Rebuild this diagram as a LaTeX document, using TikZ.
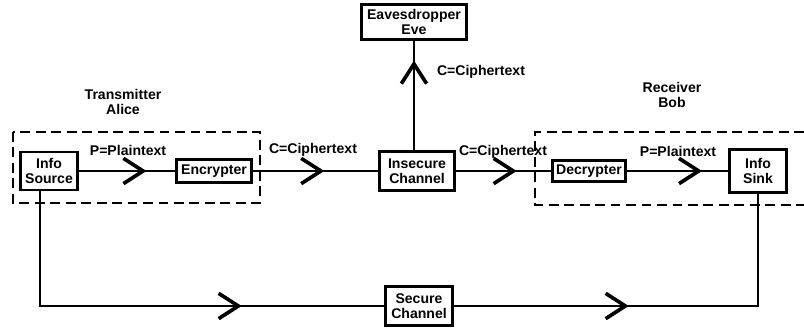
\documentclass[tikz,border=0pt]{standalone}
\usepackage{fontspec}
\setmainfont{Liberation Sans}
\usetikzlibrary{arrows.meta,decorations.markings}
\tikzset{
  unit/.style={draw, line width=2pt, fill=white, align=center, inner sep=1pt,
    font=\bfseries\fontsize{10}{11}\selectfont},
  lbl/.style={align=center, font=\bfseries\fontsize{10}{11}\selectfont},
  party/.style={draw, line width=2pt, dash pattern=on 7pt off 4pt},
  chev/.style={postaction={decorate}, decoration={markings,
    mark=at position #1 with {\arrow{Straight Barb[length=14pt,width=18pt,line width=2.6pt]}}}},
}
\begin{document}
\begin{tikzpicture}[x=0.025cm, y=-0.025cm]
  \useasboundingbox (0,0) rectangle (804,329);
  % sender and receiver groups
  \draw[party] (13,132) rectangle (260,203);
  \draw[party] (804,132) -| (535,205) -- (804,205);
  \node[lbl] (alice) at (123,102) {Transmitter\\Alice};
  \node[lbl] (bob) at (672,95) {Receiver\\Bob};

  \node[unit, minimum width=41pt, minimum height=27pt] (src) at (49,171) {Info\\Source};
  \node[unit, minimum width=53pt, minimum height=16pt] (enc) at (214,171) {Encrypter};
  \node[unit, minimum width=53pt, minimum height=28pt] (ins) at (417,171) {Insecure\\Channel};
  \node[unit, minimum width=75pt, minimum height=25pt] (eve) at (414,22) {Eavesdropper\\Eve};
  \node[unit, minimum width=52pt, minimum height=15pt] (dec) at (589,171) {Decrypter};
  \node[unit, minimum width=40pt, minimum height=31pt] (snk) at (758,171) {Info\\Sink};
  \node[unit, minimum width=48pt, minimum height=28pt] (sec) at (419,306) {Secure\\Channel};
  \coordinate (sl) at (40,306);

  \draw[line width=1.8pt, chev=0.70] (src) -- (enc);
  \draw[line width=1.8pt, chev=0.57] (enc) -- (ins);
  \draw[line width=1.8pt, chev=0.64] (ins) -- (dec);
  \draw[line width=1.8pt, chev=0.74] (dec) -- (snk);
  \draw[line width=1.8pt, chev=0.82] (ins.north -| eve) -- (eve);
  \draw[line width=1.3pt, chev=0.69] (src.south -| sl) |- (sec);
  \draw[line width=1.3pt, chev=0.42] (sec) -| (snk);

  \node[lbl] (pt1) at (128,150) {P=Plaintext};
  \node[lbl] (ct1) at (313,150) {C=Ciphertext};
  \node[lbl] (ct2) at (481,72) {C=Ciphertext};
  \node[lbl] (ct3) at (503,152) {C=Ciphertext};
  \node[lbl] (pt2) at (678,151) {P=Plaintext};
\end{tikzpicture}
\end{document}
